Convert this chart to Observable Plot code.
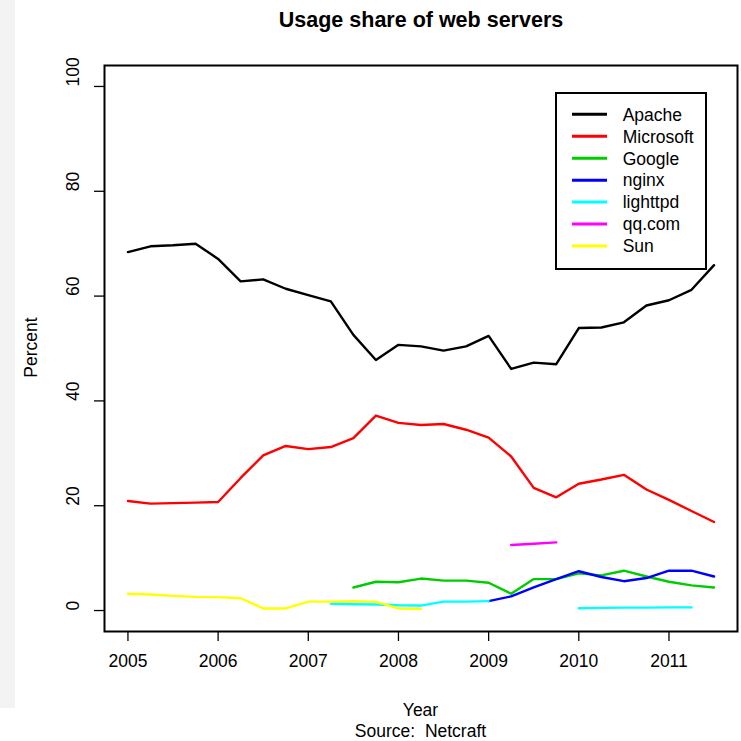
<!DOCTYPE html>
<html><head><meta charset="utf-8">
<script src="https://cdn.jsdelivr.net/npm/d3@7"></script>
<script src="https://cdn.jsdelivr.net/npm/@observablehq/plot@0.6"></script>
<style>
html,body{margin:0;padding:0;background:#fff;}
#wrap{position:relative;width:741px;height:741px;overflow:hidden;}
#strip{position:absolute;left:0;top:0;width:15px;height:708px;background:#f3f3f3;}
#chart{position:absolute;left:0;top:0;}
</style></head><body>
<div id="wrap"><div id="strip"></div><div id="chart"></div></div>
<script>
const years = [2005.00, 2005.25, 2005.50, 2005.75, 2006.00, 2006.25, 2006.50, 2006.75, 2007.00, 2007.25, 2007.50, 2007.75, 2008.00, 2008.25, 2008.50, 2008.75, 2009.00, 2009.25, 2009.50, 2009.75, 2010.00, 2010.25, 2010.50, 2010.75, 2011.00, 2011.25, 2011.50];
const apache    = [68.4, 69.5, 69.7, 70.0, 67.1, 62.8, 63.2, 61.4, 60.2, 59.0, 52.6, 47.8, 50.7, 50.4, 49.6, 50.4, 52.4, 46.1, 47.3, 47.0, 53.9, 54.0, 55.0, 58.2, 59.2, 61.2, 65.9];
const microsoft = [20.9, 20.4, 20.5, 20.6, 20.7, 25.3, 29.6, 31.4, 30.8, 31.2, 32.9, 37.2, 35.8, 35.4, 35.6, 34.5, 33.0, 29.4, 23.4, 21.6, 24.2, 25.0, 25.9, 23.1, 21.1, 19.0, 16.9];
const google    = [null, null, null, null, null, null, null, null, null, null, 4.4, 5.5, 5.4, 6.1, 5.7, 5.7, 5.3, 3.2, 6.0, 6.0, 7.1, 6.7, 7.6, 6.5, 5.5, 4.8, 4.4];
const nginx     = [null, null, null, null, null, null, null, null, null, null, null, null, null, null, null, null, 1.8, 2.7, 4.4, 6.0, 7.5, 6.4, 5.6, 6.2, 7.6, 7.6, 6.5];
const lighttpd  = [null, null, null, null, null, null, null, null, null, 1.3, 1.2, 1.15, 1.0, 0.95, 1.7, 1.7, 1.8, null, null, null, 0.45, 0.5, 0.55, 0.55, 0.6, 0.6, null];
const qqcom     = [null, null, null, null, null, null, null, null, null, null, null, null, null, null, null, null, null, 12.5, 12.75, 13.0, null, null, null, null, null, null, null];
const sun       = [3.2, 3.05, 2.8, 2.6, 2.55, 2.35, 0.4, 0.4, 1.7, 1.7, 1.8, 1.65, 0.4, 0.3, null, null, null, null, null, null, null, null, null, null, null, null, null];

const seriesNames  = ["Apache", "Microsoft", "Google", "nginx", "lighttpd", "qq.com", "Sun"];
const seriesColors = ["#000000", "#FF0000", "#00CD00", "#0000FF", "#00FFFF", "#FF00FF", "#FFFF00"];
const seriesValues = [apache, microsoft, google, nginx, lighttpd, qqcom, sun];

const xTicks = [2005, 2006, 2007, 2008, 2009, 2010, 2011];
const yTicks = [0, 20, 40, 60, 80, 100];

const titleText = "Usage share of web servers";
const xLabel = "Year";
const yLabel = "Percent";
const sourceText = "Source:  Netcraft";

const rows = seriesNames.flatMap((name, i) =>
  years.map((year, j) => ({series: name, year, value: seriesValues[i][j]})));

const font = "'Liberation Sans', Arial, Helvetica, sans-serif";

const chart = Plot.plot({
  width: 741,
  height: 741,
  marginLeft: 104,
  marginRight: 4,
  marginTop: 65,
  marginBottom: 110,
  style: {fontFamily: font, background: "transparent", overflow: "visible", color: "black"},
  x: {domain: [2004.74, 2011.76]},
  y: {domain: [-4, 104]},
  color: {domain: seriesNames, range: seriesColors},
  marks: [
    Plot.line(rows, {x: "year", y: "value", z: "series", stroke: "series",
      strokeWidth: 2.4, strokeLinejoin: "round", strokeLinecap: "round"}),
    Plot.frame({stroke: "black", strokeWidth: 2}),
    Plot.axisX({ticks: xTicks, tickSize: 10, tickFormat: () => "", label: null, strokeWidth: 1.3, stroke: "black"}),
    Plot.axisY({ticks: yTicks, tickSize: 10, tickFormat: () => "", label: null, strokeWidth: 1.3, stroke: "black"}),
    Plot.text(xTicks, {x: d => d, frameAnchor: "bottom", dy: 35, text: d => String(d), fontSize: 17.5, fill: "black"}),
    Plot.text(yTicks, {y: d => d, frameAnchor: "left", dx: -31, rotate: -90, text: d => String(d), fontSize: 17.5, fill: "black"})
  ]
});

document.getElementById("chart").appendChild(chart);

const svg = d3.select(chart);
svg.append("text")
  .attr("x", 421).attr("y", 26.7)
  .attr("text-anchor", "middle")
  .attr("font-weight", "bold")
  .attr("font-size", 21.5)
  .attr("font-family", font)
  .text(titleText);
svg.append("text")
  .attr("x", 420.5).attr("y", 716)
  .attr("text-anchor", "middle")
  .attr("font-size", 17.5)
  .attr("font-family", font)
  .text(xLabel);
svg.append("text")
  .attr("x", 420.5).attr("y", 737)
  .attr("text-anchor", "middle")
  .attr("font-size", 17.5)
  .attr("font-family", font)
  .style("white-space", "pre")
  .text(sourceText);
svg.append("text")
  .attr("transform", "translate(37.3,347.5) rotate(-90)")
  .attr("text-anchor", "middle")
  .attr("font-size", 17.5)
  .attr("font-family", font)
  .text(yLabel);

const lg = svg.append("g");
lg.append("rect")
  .attr("x", 556).attr("y", 93).attr("width", 150).attr("height", 176)
  .attr("fill", "white").attr("stroke", "black").attr("stroke-width", 2);
seriesNames.forEach((name, i) => {
  const ry = 114.3 + i * 21.95;
  lg.append("line")
    .attr("x1", 572).attr("x2", 607).attr("y1", ry).attr("y2", ry)
    .attr("stroke", seriesColors[i]).attr("stroke-width", 3);
  lg.append("text")
    .attr("x", 622.7).attr("y", ry + 6.3)
    .attr("text-anchor", "start")
    .attr("font-size", 17.5)
    .attr("font-family", font)
    .text(name);
});
</script>
</body></html>
